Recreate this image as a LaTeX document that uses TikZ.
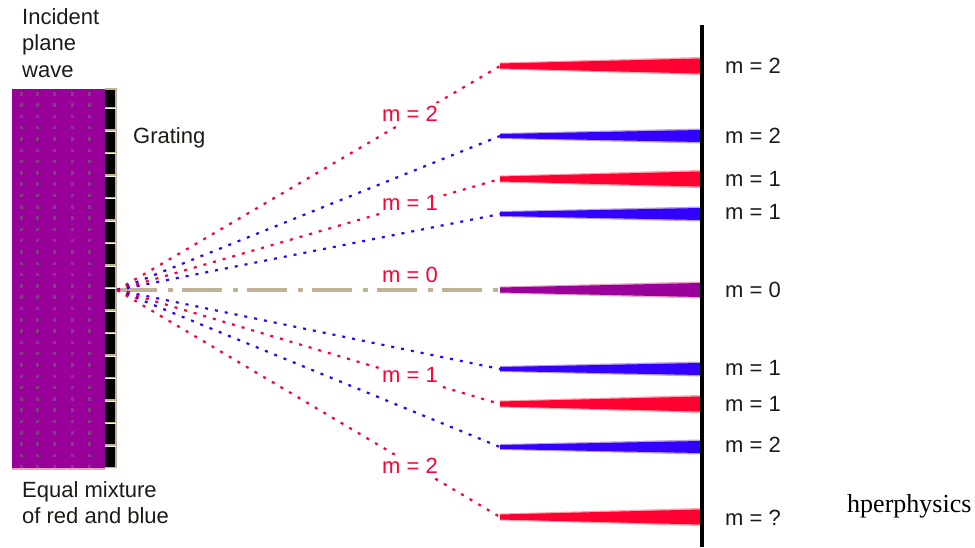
\documentclass[tikz,border=0pt]{standalone}
\usepackage{fontspec}
\setmainfont{Liberation Serif}
\newfontfamily\labelfont{Liberation Sans}
\usetikzlibrary{calc}

\definecolor{wavepurple}{RGB}{153,0,153}
\definecolor{wavedot}{RGB}{132,60,132}
\definecolor{edgepink}{RGB}{232,168,192}
\definecolor{rayred}{RGB}{255,0,51}
\definecolor{rayblue}{RGB}{51,0,255}
\definecolor{raytan}{RGB}{192,178,150}
\definecolor{lightred}{RGB}{250,165,170}
\definecolor{lightblue}{RGB}{185,165,220}
\definecolor{lightpurple}{RGB}{230,165,200}
\definecolor{textgray}{RGB}{30,27,22}

\tikzset{
  lbl/.style={font=\labelfont\fontsize{22}{26.5}\selectfont, text=textgray, inner sep=0pt, align=left},
  ordlbl/.style={font=\labelfont\fontsize{22}{26.5}\selectfont, text=rayred, fill=white, inner xsep=2pt, inner ysep=3pt},
  screenlbl/.style={lbl, anchor=west},
  redray/.style={draw=rayred, line width=2.2pt, dash pattern=on 3pt off 7pt},
  blueray/.style={draw=rayblue, line width=2.2pt, dash pattern=on 3pt off 7pt},
  zeroray/.style={draw=raytan, line width=4.5pt, dash pattern=on 40pt off 11pt on 5pt off 9pt},
}

% tapered beam from a start coordinate to the screen
\newcommand{\beamfan}[5]{% start, colour, halo colour, half width at start, half width at screen
  \fill[#3] ($(#1)+(0,-#4-1)$) -- ($(#1)+(200,-#5-1.5)$) -- ($(#1)+(200,#5+1.5)$) -- ($(#1)+(0,#4+1)$) -- cycle;
  \fill[#2] ($(#1)+(0,-#4)$) -- ($(#1)+(200,-#5)$) -- ($(#1)+(200,#5)$) -- ($(#1)+(0,#4)$) -- cycle;
}

\begin{document}
\begin{tikzpicture}[x=1pt,y=-1pt]
\useasboundingbox[fill=white] (0,0) rectangle (975,547);

% incident wave: purple block with a grid of darker dots
\fill[wavepurple] (12,89) rectangle (105,468);
\foreach \dx in {21,37,54,72,89}{
  \foreach \k in {0,...,33}{
    \fill[wavedot] ({\dx-1.5},{92+11.3*\k}) rectangle ++(3,3.5);
  }
}
\fill[edgepink] (12,467.5) rectangle (105,470);

% grating: black strip with narrow slits
\fill[black] (105,88) rectangle (115,468);
\fill[raytan] (115,88) rectangle (117,468);
\fill[raytan] (105,88) rectangle (117,89.5);
\foreach \k in {0,...,16}{
  \fill[raytan] (105,{106.8+22.5*\k}) rectangle (117,{108.4+22.5*\k});
  \fill[white!85!raytan] (105,{108.4+22.5*\k}) rectangle (116,{109.4+22.5*\k});
}

% source point on the grating and beam starts
\coordinate (src) at (117,290);
\coordinate (r2u) at (500,66);
\coordinate (b2u) at (500,136);
\coordinate (r1u) at (500,179);
\coordinate (b1u) at (500,214);
\coordinate (z0)  at (500,290);
\coordinate (b1d) at (500,369);
\coordinate (r1d) at (500,404);
\coordinate (b2d) at (500,447);
\coordinate (r2d) at (500,517);

% diffracted rays
\draw[zeroray] (src) -- (z0);
\draw[redray]  (src) -- (r2u);
\draw[blueray] (src) -- (b2u);
\draw[redray]  (src) -- (r1u);
\draw[blueray] (src) -- (b1u);
\draw[blueray] (src) -- (b1d);
\draw[redray]  (src) -- (r1d);
\draw[blueray] (src) -- (b2d);
\draw[redray]  (src) -- (r2d);

% order labels on the rays
\node[ordlbl] (o2u) at (410,114) {m = 2};
\node[ordlbl] (o1u) at (410,203) {m = 1};
\node[ordlbl, fill=none] (o0) at (410,275) {m = 0};
\node[ordlbl] (o1d) at (410,375) {m = 1};
\node[ordlbl] (o2d) at (410,466) {m = 2};

% beams widening towards the screen
\beamfan{r2u}{rayred}{lightred}{2.5}{7.5}
\beamfan{b2u}{rayblue}{lightblue}{2}{6}
\beamfan{r1u}{rayred}{lightred}{2.5}{7.5}
\beamfan{b1u}{rayblue}{lightblue}{2}{6}
\beamfan{z0}{wavepurple}{lightpurple}{2.5}{7}
\beamfan{b1d}{rayblue}{lightblue}{2}{6}
\beamfan{r1d}{rayred}{lightred}{2.5}{7.5}
\beamfan{b2d}{rayblue}{lightblue}{2}{6}
\beamfan{r2d}{rayred}{lightred}{2.5}{7.5}

% screen
\coordinate (scrtop) at (702,25);
\coordinate (scrbot) at (702,547);
\draw[black, line width=3.5pt] (scrtop) -- (scrbot);

% fringe labels on the screen
\node[screenlbl] (s1) at (725,66)  {m = 2};
\node[screenlbl] (s2) at (725,136) {m = 2};
\node[screenlbl] (s3) at (725,179) {m = 1};
\node[screenlbl] (s4) at (725,212) {m = 1};
\node[screenlbl] (s5) at (725,290) {m = 0};
\node[screenlbl] (s6) at (725,368) {m = 1};
\node[screenlbl] (s7) at (725,404) {m = 1};
\node[screenlbl] (s8) at (725,445) {m = 2};
\node[screenlbl] (s9) at (725,518) {m = ?};

% captions
\node[lbl, anchor=north west] (inc) at (22,8) {Incident\\plane\\wave};
\node[lbl, anchor=north west] (grt) at (133,127) {Grating};
\node[lbl, anchor=north west] (mix) at (22,481) {Equal mixture\\of red and blue};
\node[inner sep=0pt, anchor=base west, font=\fontsize{26}{30}\selectfont] (src-note) at (847,512) {hperphysics};
\end{tikzpicture}
\end{document}
